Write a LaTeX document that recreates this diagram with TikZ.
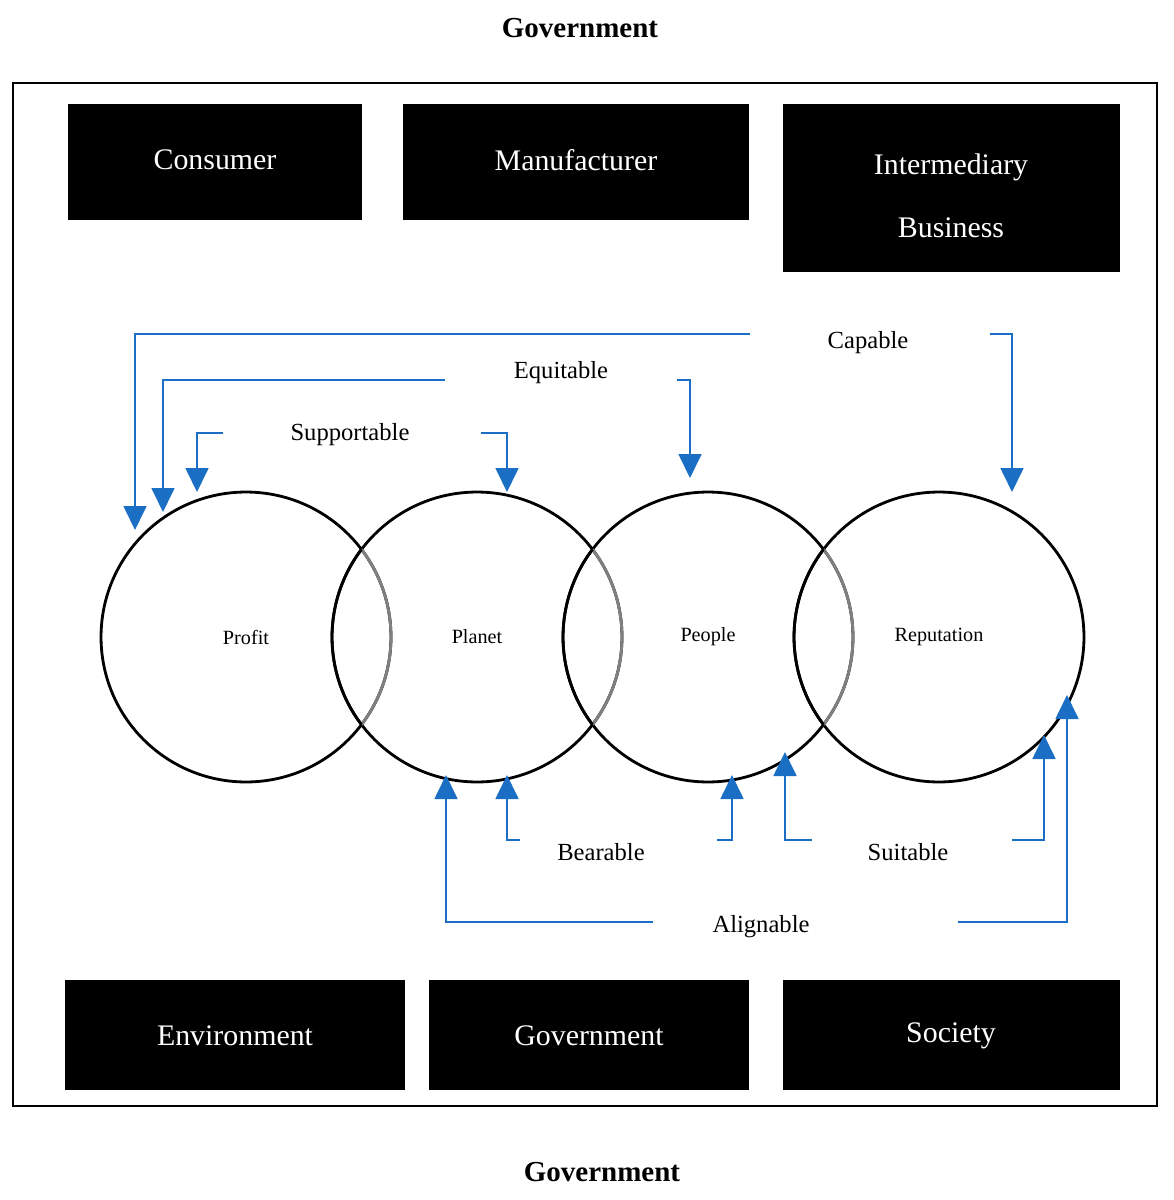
\documentclass[tikz,border=0pt]{standalone}
\usepackage{fontspec}
\setmainfont{Liberation Serif}
\usetikzlibrary{arrows.meta}
\definecolor{ablue}{HTML}{1A6FC4}
\begin{document}
\begin{tikzpicture}[x=0.02cm,y=-0.02cm,
  box/.style={fill=black,text=white,font=\fontsize{17}{26}\selectfont,align=center},
  circ/.style={draw=black,line width=1.6pt,circle,minimum size=5.8cm,font=\fontsize{11.5}{13}\selectfont},
  lab/.style={font=\fontsize{14}{16}\selectfont},
  con/.style={draw=ablue,line width=1pt,-{Triangle[length=0.48cm,width=0.46cm]}},
  gov/.style={font=\bfseries\fontsize{16.5}{18}\selectfont}]
\useasboundingbox (0,0) rectangle (1173,1200);
\node[gov] (gt) at (580,28) {Government};
\node[gov] (gb) at (602,1172) {Government};
\draw[line width=1pt] (13,83) rectangle (1157,1106);
\fill (68,104) rectangle (362,220); \node[box] (c) at (215,160) {Consumer};
\fill (403,104) rectangle (749,220); \node[box] (m) at (576,160) {Manufacturer};
\fill (783,104) rectangle (1120,272); \node[box] (i) at (951,196) {Intermediary\\[10pt]Business};
\fill (65,980) rectangle (405,1090); \node[box] (e) at (235,1036) {Environment};
\fill (429,980) rectangle (749,1090); \node[box] (g) at (589,1036) {Government};
\fill (783,980) rectangle (1120,1090); \node[box] (s) at (951,1036) {Society};
\node[circ] (p1) at (246,637) {Profit};
\node[circ] (p2) at (477,637) {Planet};
\node[circ] (p3) at (708,637) {People};
\node[circ] (p4) at (939,637) {Reputation};
\foreach \c in {p1,p2,p3}
  \draw[gray,line width=1.6pt] (\c) ++(-37.2:145) arc[start angle=-37.2,end angle=37.2,radius=145];
\foreach \c in {p2,p3,p4}
  \draw[black,line width=1.6pt] (\c) ++(142.8:145) arc[start angle=142.8,end angle=217.2,radius=145];
% top labels
\node[lab] (cap) at (868,343) {Capable};
\node[lab] (equ) at (561,373) {Equitable};
\node[lab] (sup) at (350,435) {Supportable};
\node[lab] (bea) at (601,852) {Bearable};
\node[lab] (sui) at (908,852) {Suitable};
\node[lab] (ali) at (761,927) {Alignable};
\draw[con] (750,334) -- (135,334) -- (135,530);
\draw[con] (990,334) -- (1012,334) -- (1012,492);
\draw[con] (445,380) -- (163,380) -- (163,512);
\draw[con] (677,380) -- (690,380) -- (690,478);
\draw[con] (223,433) -- (197,433) -- (197,492);
\draw[con] (481,433) -- (507,433) -- (507,492);
\draw[con] (520,840) -- (507,840) -- (507,775);
\draw[con] (717,840) -- (732,840) -- (732,775);
\draw[con] (812,840) -- (785,840) -- (785,752);
\draw[con] (1012,840) -- (1044,840) -- (1044,735);
\draw[con] (653,922) -- (446,922) -- (446,775);
\draw[con] (958,922) -- (1067,922) -- (1067,695);
\end{tikzpicture}
\end{document}
